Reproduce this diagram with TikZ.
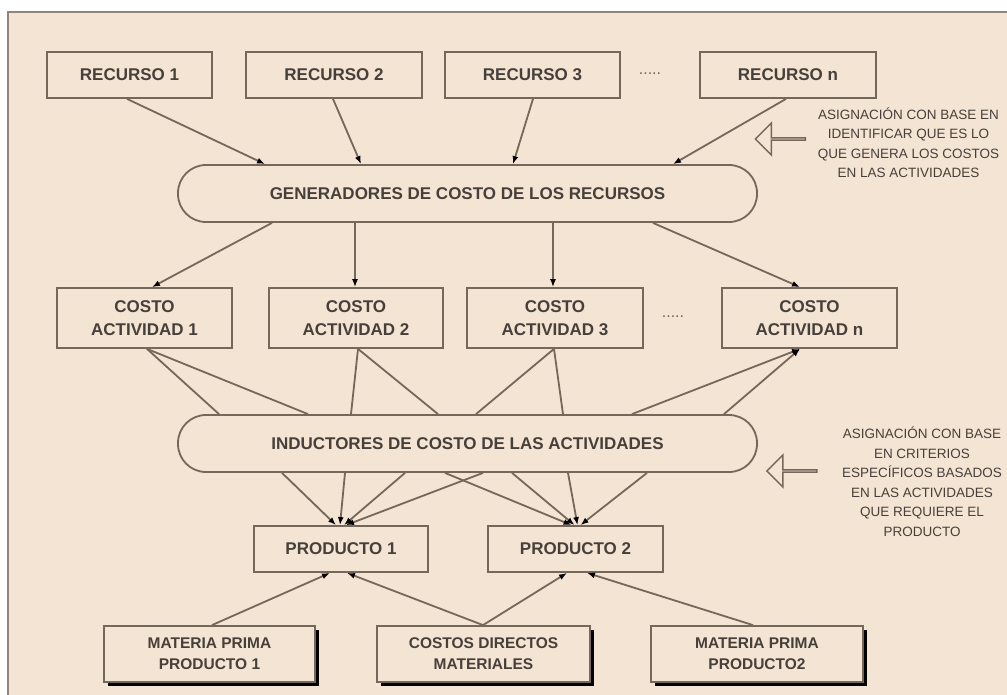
\documentclass[tikz,border=0pt]{standalone}
\usepackage{fontspec}
\setmainfont{Liberation Sans}
\usetikzlibrary{arrows.meta,shapes.arrows,shadows}

\definecolor{papel}{HTML}{F3E4D4}
\definecolor{borde}{HTML}{75675A}
\definecolor{tinta}{HTML}{47403A}

\begin{document}
\begin{tikzpicture}[x=1pt,y=-1pt,
  caja/.style={draw=borde,line width=1.8pt,fill=papel,text=tinta,align=center,inner sep=0pt,
    font=\bfseries\fontsize{17}{23}\selectfont,minimum width=175pt},
  ovalo/.style={caja,rounded corners=28pt,minimum width=579pt,minimum height=57pt},
  base/.style={caja,font=\bfseries\fontsize{15.5}{21}\selectfont,minimum width=212pt,minimum height=56pt,
    drop shadow={shadow xshift=4pt,shadow yshift=-4pt,fill=black,opacity=1}},
  nota/.style={text=tinta,align=center,font=\fontsize{13.5}{19.5}\selectfont},
  hueca/.style={single arrow,draw=borde,line width=1.4pt,fill=papel,shape border rotate=180,
    minimum height=50pt,minimum width=32pt,single arrow head extend=9pt,inner sep=0pt},
  puntos/.style={text=borde,font=\fontsize{16}{16}\selectfont}]

\useasboundingbox (0,0) rectangle (1007,695);
\fill[white] (0,0) rectangle (1007,695);
\fill[papel] (8,12) rectangle (1007,695);
\draw[borde!80,line width=1.5pt] (8,695) -- (8,12) -- (1007,12);

% recursos
\node[caja,minimum height=46pt,minimum width=165pt] (r1) at (129.5,75) {RECURSO 1};
\node[caja,minimum height=46pt,minimum width=176pt] (r2) at (334,75) {RECURSO 2};
\node[caja,minimum height=46pt] (r3) at (532.5,75) {RECURSO 3};
\node[puntos] (d1) at (650,74) {.....};
\node[caja,minimum height=46pt,minimum width=176pt] (rn) at (788,75) {RECURSO n};

\node[ovalo] (gen) at (467.5,193.5) {GENERADORES DE COSTO DE LOS RECURSOS};

% actividades
\node[caja,minimum height=60pt] (ca1) at (144.5,318) {COSTO\\ACTIVIDAD 1};
\node[caja,minimum height=60pt,minimum width=174pt] (ca2) at (356,318) {COSTO\\ACTIVIDAD 2};
\node[caja,minimum height=60pt,minimum width=176pt] (ca3) at (555,318) {COSTO\\ACTIVIDAD 3};
\node[puntos] (d2) at (673,317) {.....};
\node[caja,minimum height=60pt] (can) at (809.5,318) {COSTO\\ACTIVIDAD n};

\node[ovalo] (ind) at (467.5,443.5) {INDUCTORES DE COSTO DE LAS ACTIVIDADES};

% productos
\node[caja,minimum height=46pt,minimum width=174pt] (p1) at (341,549) {PRODUCTO 1};
\node[caja,minimum height=46pt] (p2) at (575.5,549) {PRODUCTO 2};

\node[base,minimum width=211pt] (mp1) at (209.5,654) {MATERIA PRIMA\\PRODUCTO 1};
\node[base,minimum width=213pt] (cdm) at (483.5,654) {COSTOS DIRECTOS\\MATERIALES};
\node[base] (mp2) at (757,654) {MATERIA PRIMA\\PRODUCTO2};

% notas
\node[hueca] (h1) at (781,139) {};
\node[nota] (n1) at (908.5,142.5) {ASIGNACIÓN CON BASE EN\\IDENTIFICAR QUE ES LO\\QUE GENERA LOS COSTOS\\EN LAS ACTIVIDADES};
\node[hueca] (h2) at (792.5,471) {};
\node[nota] (n2) at (922,481.5) {ASIGNACIÓN CON BASE\\EN CRITERIOS\\ESPECÍFICOS BASADOS\\EN LAS ACTIVIDADES\\QUE REQUIERE EL\\PRODUCTO};

\begin{scope}[every path/.append style={draw=borde,line width=1.8pt,-{Latex[length=8pt,width=6pt,black]}}]
\draw ([xshift=-2.5pt]r1.south) -- ([xshift=-202.5pt]gen.north);
\draw ([xshift=-1pt]r2.south) -- ([xshift=-106.5pt]gen.north);
\draw ([xshift=0.5pt]r3.south) -- ([xshift=45.5pt]gen.north);
\draw ([xshift=-2pt]rn.south) -- ([xshift=205.5pt]gen.north);

\draw ([xshift=-195.5pt]gen.south) -- ([xshift=7.5pt]ca1.north);
\draw ([xshift=-112.5pt]gen.south) -- ([xshift=-1pt]ca2.north);
\draw ([xshift=85.5pt]gen.south) -- ([xshift=-2pt]ca3.north);
\draw ([xshift=185.5pt]gen.south) -- ([xshift=-9.5pt]can.north);

\draw[-] ([xshift=2.5pt]ca1.south) -- ([xshift=-248.5pt]ind.north);
\draw[-] ([xshift=2.5pt]ca1.south) -- ([xshift=-159.5pt]ind.north);
\draw[-] ([xshift=2pt]ca2.south) -- ([xshift=-116.5pt]ind.north);
\draw[-] ([xshift=2pt]ca2.south) -- ([xshift=-29.5pt]ind.north);
\draw[-] ([xshift=-1pt]ca3.south) -- ([xshift=8.5pt]ind.north);
\draw[-] ([xshift=-1pt]ca3.south) -- ([xshift=95.5pt]ind.north);
\draw ([xshift=164.5pt]ind.north) -- ([xshift=-9.5pt]can.south);
\draw ([xshift=256.5pt]ind.north) -- ([xshift=-9.5pt]can.south);

\draw ([xshift=-185.5pt]ind.south) -- ([xshift=-5pt]p1.north);
\draw ([xshift=-122.5pt]ind.south) -- ([xshift=-1pt]p1.north);
\draw ([xshift=-62.5pt]ind.south) -- ([xshift=3pt]p1.north);
\draw ([xshift=15.5pt]ind.south) -- ([xshift=5pt]p1.north);
\draw ([xshift=-22.5pt]ind.south) -- ([xshift=-4pt]p2.north);
\draw ([xshift=44.5pt]ind.south) -- ([xshift=-1pt]p2.north);
\draw ([xshift=100.5pt]ind.south) -- ([xshift=2pt]p2.north);
\draw ([xshift=179.5pt]ind.south) -- ([xshift=5pt]p2.north);

\draw ([xshift=2.5pt]mp1.north) -- ([xshift=-11pt]p1.south);
\draw ([xshift=-0.5pt]cdm.north) -- ([xshift=6pt]p1.south);
\draw ([xshift=-0.5pt]cdm.north) -- ([xshift=-8.5pt]p2.south);
\draw ([xshift=-4pt]mp2.north) -- ([xshift=11.5pt]p2.south);
\end{scope}
\end{tikzpicture}
\end{document}
